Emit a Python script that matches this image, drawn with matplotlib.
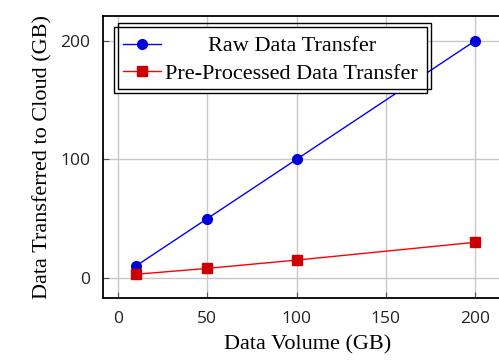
import matplotlib
matplotlib.use('Agg')
import matplotlib.pyplot as plt
from matplotlib.patches import Rectangle
from matplotlib.transforms import IdentityTransform

# data
volume = [10, 50, 100, 200]
raw = [10, 50, 100, 200]
pre = [3, 8, 15, 30]
xticks = [0, 50, 100, 150, 200]
yticks = [0, 100, 200]

serif = 'Liberation Serif'
sans = 'Open Sans'
lfs = 16

fig = plt.figure(figsize=(4.99, 3.6), dpi=100)
ax = fig.add_axes([0.2064, 0.1722, 0.82, 0.7834])

ax.plot(volume, raw, '-o', color='#0000ff', lw=1.0, ms=7, mfc='#0000dd', mec='#0000dd',
        label='Raw Data Transfer')
ax.plot(volume, pre, '-s', color='#ff0000', lw=1.0, ms=7, mfc='#cc0000', mec='#cc0000',
        label='Pre-Processed Data Transfer')

ax.set_xlim(-8.4, 220.8)
ax.set_ylim(-17, 221)
ax.set_xticks(xticks)
ax.set_yticks(yticks)
ax.grid(True, color='#c8c8c8', lw=1.0)
ax.set_axisbelow(True)
ax.tick_params(direction='in', length=4, color='#555555', labelsize=12.5, pad=9)
for lab in ax.get_xticklabels() + ax.get_yticklabels():
    lab.set_family(sans)
    lab.set_color('#222222')
for s in ax.spines.values():
    s.set_linewidth(1.3)

ax.set_xlabel('Data Volume (GB)', family=serif, fontsize=16, labelpad=6)
ax.set_ylabel('Data Transferred to Cloud (GB)', family=serif, fontsize=16, labelpad=6)

leg = ax.legend(loc='upper left', bbox_to_anchor=(0.0275, 0.961), fancybox=False,
                framealpha=1, edgecolor='black', handlelength=1.7,
                prop={'family': serif, 'size': lfs}, borderpad=0.4,
                labelspacing=0.32, handletextpad=0.2, borderaxespad=0)
leg.get_frame().set_linewidth(1.0)
for t in leg.get_texts():
    t.set_alpha(0)

fig.canvas.draw()
r = fig.canvas.get_renderer()
exts = [t.get_window_extent(r) for t in leg.get_texts()]
x0 = min(e.x0 for e in exts)
x1 = max(e.x1 for e in exts)
for t, e in zip(leg.get_texts(), exts):
    fig.text((x0 + x1) / 2 / fig.dpi / fig.get_figwidth(),
             (e.y0 + e.y1) / 2 / fig.dpi / fig.get_figheight(),
             t.get_text(), ha='center', va='center', family=serif, fontsize=lfs,
             zorder=10)

lb = leg.get_window_extent(r)
ax.add_patch(Rectangle((lb.x0 + 4, lb.y0 + 4), lb.width, lb.height, transform=IdentityTransform(),
                       fill=False, edgecolor='black', lw=1.0, zorder=6, clip_on=False))

fig.savefig('out.png', dpi=100)
